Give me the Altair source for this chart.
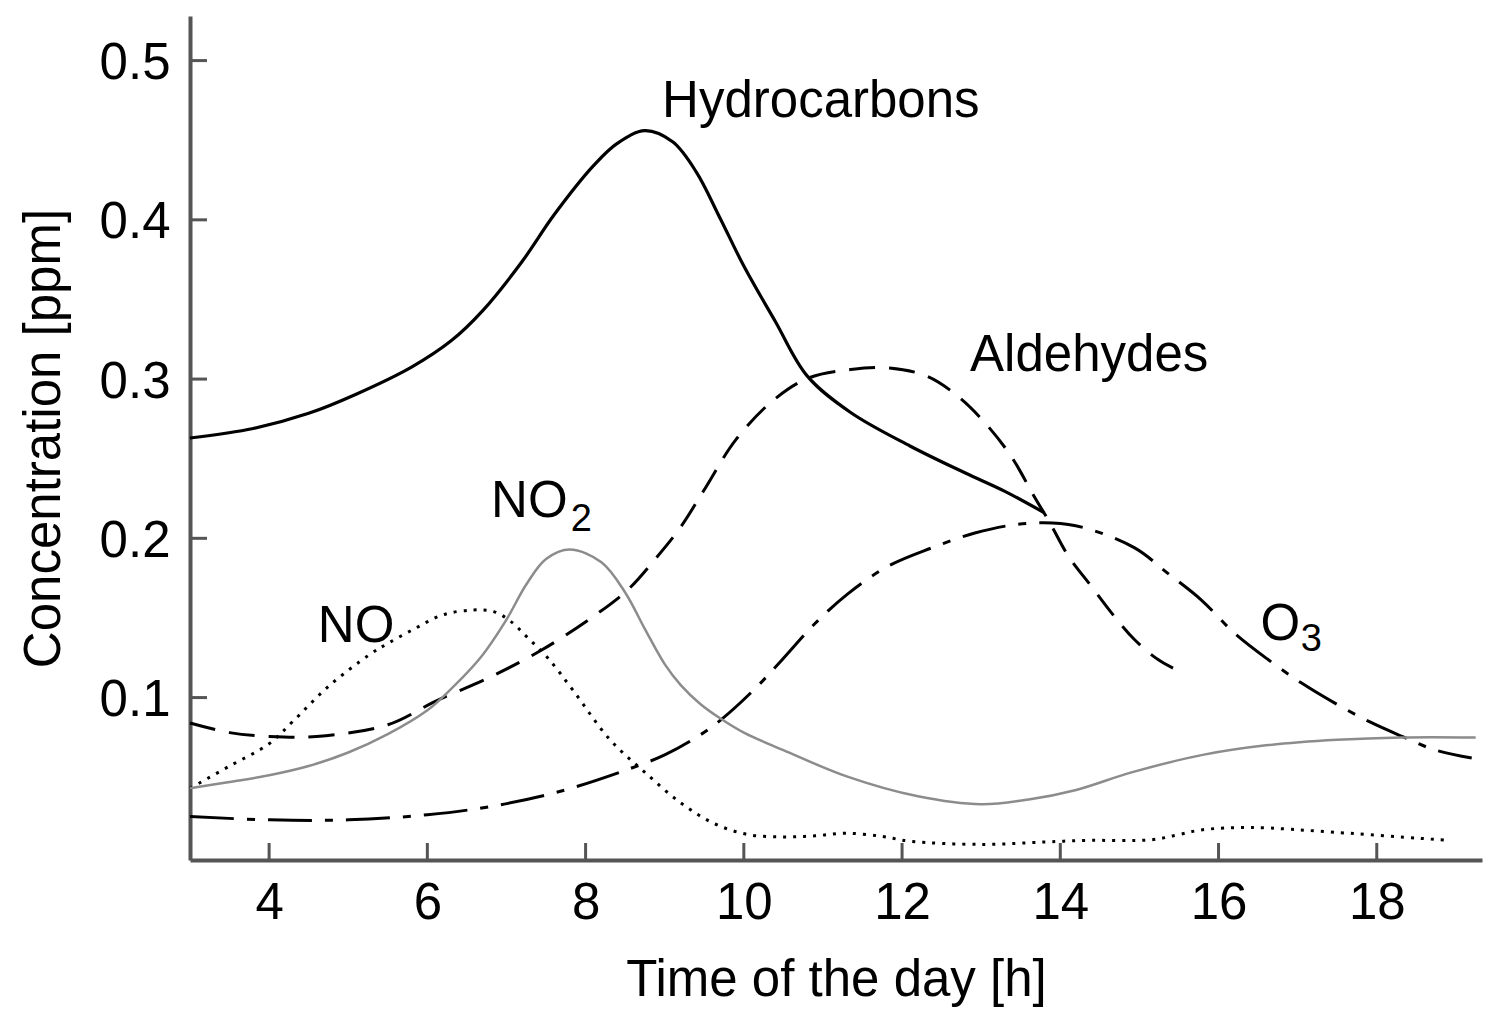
import altair as alt
import pandas as pd

# ---------------- data ----------------
hc_x = [3.0, 3.8, 4.5, 5.1, 5.8, 6.3, 6.7, 7.2, 7.6, 8.1, 8.4, 8.75, 9.1, 9.4, 9.7, 10.0,
        10.4, 10.8, 11.35, 12.1, 12.8, 13.3, 13.8]
hc_y = [0.263, 0.269, 0.2785, 0.2905, 0.3075, 0.324, 0.343, 0.374, 0.403, 0.434, 0.448,
        0.456, 0.449, 0.430, 0.401, 0.371, 0.336, 0.302, 0.279, 0.258, 0.241, 0.2295, 0.216]

no2_x = [3.0, 3.5, 4.0, 4.5, 5.0, 5.5, 6.0, 6.25, 6.67, 7.0, 7.25, 7.5, 7.8, 8.2, 8.5, 8.75,
         9.0, 9.2, 9.45, 9.7, 10.0, 10.5, 11.3, 12.2, 13.0, 13.6, 14.2, 14.9, 15.8, 16.6,
         17.5, 18.3, 19.25]
no2_y = [0.043, 0.047, 0.0512, 0.057, 0.0655, 0.077, 0.092, 0.103, 0.125, 0.149, 0.171, 0.187,
         0.193, 0.185, 0.166, 0.143, 0.121, 0.108, 0.096, 0.087, 0.078, 0.067, 0.0505, 0.038,
         0.033, 0.036, 0.042, 0.053, 0.064, 0.070, 0.0735, 0.075, 0.075]

no_x = [3.0, 3.5, 4.0, 4.3, 4.75, 5.27, 5.5, 5.83, 6.2, 6.58, 6.84, 7.05, 7.26, 7.52, 7.85,
        8.3, 8.75, 9.2, 9.62, 10.05, 10.5, 10.9, 11.3, 11.75, 12.1, 13.0, 13.8, 14.3, 15.15,
        15.5, 15.8, 16.4, 17.5, 18.9]
no_y = [0.043, 0.057, 0.071, 0.085, 0.107, 0.127, 0.134, 0.143, 0.152, 0.155, 0.154, 0.148,
        0.138, 0.125, 0.104, 0.074, 0.053, 0.034, 0.021, 0.014, 0.0125, 0.0132, 0.0148,
        0.0128, 0.0098, 0.0078, 0.0093, 0.0103, 0.0107, 0.014, 0.017, 0.0184, 0.0153, 0.0103]

al_x = [3.0, 3.5, 4.0, 4.6, 5.5, 6.1, 6.8, 7.45, 8.1, 8.54, 8.88, 9.2, 9.5, 9.9, 10.38, 10.82,
        11.35, 11.84, 12.32, 12.71, 13.05, 13.38, 13.67, 13.87, 14.1, 14.39, 14.65, 14.94,
        15.24, 15.51]
al_y = [0.084, 0.078, 0.0756, 0.0756, 0.0829, 0.0976, 0.113, 0.130, 0.151, 0.168, 0.187,
        0.207, 0.2305, 0.262, 0.287, 0.3007, 0.306, 0.307, 0.3017, 0.289, 0.2724, 0.2514,
        0.2263, 0.2096, 0.189, 0.170, 0.153, 0.1363, 0.1237, 0.1164]

o3_x = [3.0, 4.0, 5.0, 6.0, 6.8, 7.67, 8.54, 9.0, 9.4, 9.71, 10.13, 10.47, 10.89, 11.31,
        11.82, 12.37, 12.92, 13.42, 13.9, 14.31, 14.94, 15.36, 15.78, 16.2, 16.63, 17.05,
        17.47, 17.9, 18.32, 18.73, 19.2]
o3_y = [0.0253, 0.0232, 0.0232, 0.0264, 0.0316, 0.041, 0.055, 0.064, 0.075, 0.086, 0.105,
        0.123, 0.146, 0.165, 0.1824, 0.1939, 0.2033, 0.2085, 0.2096, 0.2065, 0.194, 0.178,
        0.1614, 0.1405, 0.1237, 0.1091, 0.0965, 0.085, 0.0756, 0.0672, 0.062]

x_ticks = [4, 6, 8, 10, 12, 14, 16, 18]
y_ticks = [0.1, 0.2, 0.3, 0.4, 0.5]

# annotation labels (anchored in data units)
label_text = ["Hydrocarbons", "Aldehydes", "NO", "NO", "O"]
label_x = [8.967, 12.86, 4.616, 6.806, 16.53]
label_y = [0.4646, 0.3048, 0.1352, 0.2134, 0.1363]
sub_text = ["2", "3"]
sub_x = [7.813, 17.04]
sub_y = [0.2048, 0.1290]

# ---------------- styling ----------------
W, H = 1292, 844
FONT = "Liberation Sans"
AXIS_GREY = "#555555"
CURVE = "catmull-rom"
xs = alt.Scale(domain=[3.0, 19.33], nice=False, zero=False)
ys = alt.Scale(domain=[-0.002, 0.528], nice=False, zero=False)

x_axis = alt.Axis(values=x_ticks, format="d", ticks=False, tickSize=0, grid=False,
                  domainColor=AXIS_GREY, domainWidth=4, labelFont=FONT, labelFontSize=51,
                  labelColor="black", labelPadding=18, labelFlush=False, labelOverlap=False,
                  title="Time of the day [h]", titleFont=FONT, titleFontSize=51,
                  titleFontWeight="normal", titleColor="black", titleY=135,
                  titleBaseline="alphabetic")
y_axis = alt.Axis(values=y_ticks, format=".1f", ticks=False, tickSize=0, grid=False,
                  domainColor=AXIS_GREY, domainWidth=4, labelFont=FONT, labelFontSize=51,
                  labelColor="black", labelPadding=20, labelBaseline="alphabetic",
                  labelOffset=18, labelFlush=False, labelOverlap=False,
                  title="Concentration [ppm]", titleFont=FONT, titleFontSize=51,
                  titleFontWeight="normal", titleColor="black", titleX=-131,
                  titleBaseline="alphabetic", titleAngle=270)

X = alt.X("x:Q", scale=xs, axis=x_axis)
Y = alt.Y("y:Q", scale=ys, axis=y_axis)

series = [
    (hc_x, hc_y, dict(color="black", strokeWidth=3.2)),
    (al_x, al_y, dict(color="black", strokeWidth=3, strokeDash=[26, 14])),
    (o3_x, o3_y, dict(color="black", strokeWidth=3, strokeDash=[44, 13, 8, 13])),
    (no_x, no_y, dict(color="black", strokeWidth=3, strokeDash=[3, 7])),
    (no2_x, no2_y, dict(color="#8c8c8c", strokeWidth=2.5)),
]

layers = []
for sx, sy, style in series:
    df = pd.DataFrame({"x": sx, "y": sy})
    layers.append(alt.Chart(df).mark_line(interpolate=CURVE, **style).encode(x=X, y=Y))

# inward tick marks
xt = pd.DataFrame({"x": x_ticks})
layers.append(alt.Chart(xt).mark_rule(color=AXIS_GREY, strokeWidth=3).encode(
    x=X, y=alt.value(H), y2=alt.value(H - 17)))
yt = pd.DataFrame({"y": y_ticks})
layers.append(alt.Chart(yt).mark_rule(color=AXIS_GREY, strokeWidth=3).encode(
    y=Y, x=alt.value(0), x2=alt.value(17)))

# labels
lab = pd.DataFrame({"x": label_x, "y": label_y, "t": label_text})
layers.append(alt.Chart(lab).mark_text(align="left", baseline="alphabetic", font=FONT,
                                       fontSize=51, color="black").encode(x=X, y=Y, text="t:N"))
sub = pd.DataFrame({"x": sub_x, "y": sub_y, "t": sub_text})
layers.append(alt.Chart(sub).mark_text(align="left", baseline="alphabetic", font=FONT,
                                       fontSize=38, color="black").encode(x=X, y=Y, text="t:N"))

chart = alt.layer(*layers).properties(
    width=W, height=H,
    padding={"left": 182, "top": 8, "right": 8, "bottom": 150},
    autosize=alt.AutoSizeParams(type="none"),
    background="white",
).configure_view(stroke=None)

chart.save("out.html", embed_options={"renderer": "svg", "actions": False})
